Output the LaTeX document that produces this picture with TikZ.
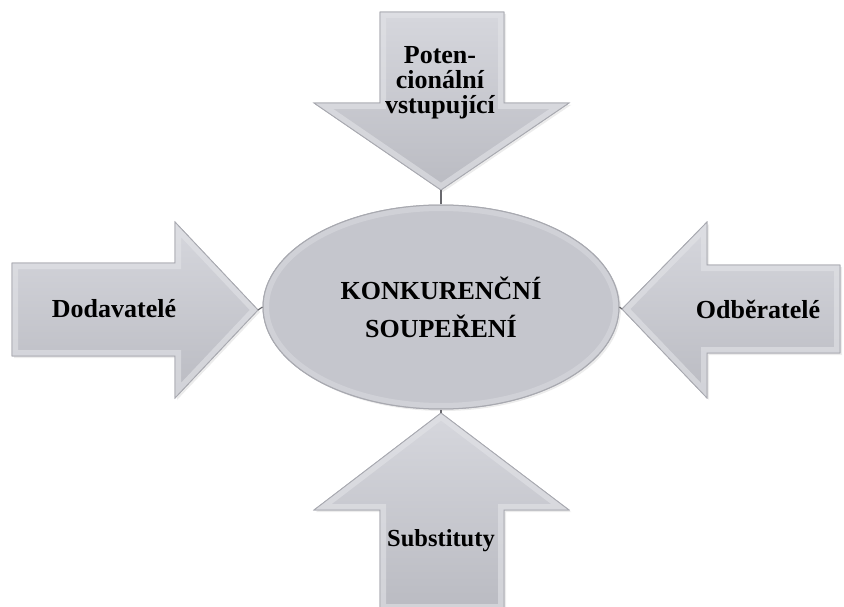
\documentclass[tikz,border=0pt]{standalone}
\usepackage{fontspec}
\setmainfont{Liberation Serif}
\usetikzlibrary{shapes.geometric,shadows}
\definecolor{facegray}{RGB}{197,198,205}
\definecolor{lightface}{RGB}{214,215,221}
\definecolor{darkface}{RGB}{186,187,194}
\definecolor{edgegray}{RGB}{168,169,176}
\definecolor{bevelgray}{RGB}{226,227,231}
\definecolor{linkgray}{RGB}{105,105,110}
\begin{document}
\begin{tikzpicture}[
        x=1pt,y=-1pt,
        arrowbody/.style={draw=edgegray,line width=.8pt,top color=lightface,bottom color=darkface,
          drop shadow={shadow xshift=2pt,shadow yshift=-2pt,opacity=.15}},
        bevel/.style={draw=bevelgray,line width=12pt,opacity=.6},
        core/.style={ellipse,draw=edgegray,line width=1pt,fill=facegray,
          minimum width=356pt,minimum height=204pt,inner sep=0pt,align=center,
          font=\bfseries\fontsize{26}{38}\selectfont,
          drop shadow={shadow xshift=2pt,shadow yshift=-2pt,opacity=.15}},
        caption/.style={font=\bfseries\fontsize{26}{38}\selectfont,align=center,inner sep=0pt},
        link/.style={draw=linkgray,line width=1.2pt},
        ]
        \useasboundingbox (0,0) rectangle (844,607);
        % arrows
        \def\entrantpath{(380,12) -- (504,12) -- (504,103) -- (569,103) -- (441,190) -- (314,103) -- (380,103) -- cycle}
        \def\supplierpath{(12,263) -- (175,263) -- (175,222) -- (258,310) -- (175,398) -- (175,356) -- (12,356) -- cycle}
        \def\buyerpath{(840,265) -- (707,265) -- (707,222) -- (622,309) -- (707,398) -- (707,353) -- (840,353) -- cycle}
        \def\substpath{(441,413) -- (569,510) -- (504,510) -- (504,610) -- (380,610) -- (380,510) -- (314,510) -- cycle}
        \foreach \arrowpath in {\entrantpath,\supplierpath,\buyerpath,\substpath}{
          \path[arrowbody] \arrowpath;
          \begin{scope}
            \clip \arrowpath;
            \draw[bevel] \arrowpath;
          \end{scope}
          \draw[edgegray,line width=.8pt] \arrowpath;
        }
        \coordinate (toptip) at (441,190);
        \coordinate (lefttip) at (258,310);
        \coordinate (righttip) at (622,309);
        \coordinate (bottomtip) at (441,413);
        % centre
        \node[core] (rivalry) at (441,307) {KONKURENČNÍ\\SOUPEŘENÍ};
        \begin{scope}
          \clip (rivalry.center) ellipse [x radius=178,y radius=102];
          \draw[bevel,opacity=.4] (rivalry.center) ellipse [x radius=178,y radius=102];
        \end{scope}
        \draw[edgegray,line width=1pt] (rivalry.center) ellipse [x radius=178,y radius=102];
        \draw[link] (toptip) -- (rivalry.north);
        \draw[link] (lefttip) -- (rivalry.west);
        \draw[link] (righttip) -- (rivalry.east);
        \draw[link] (bottomtip) -- (rivalry.south);
        % labels
        \node[caption,font=\bfseries\fontsize{26}{25}\selectfont] (entrants) at (440,83) {Poten-\\cionální\\vstupující};
        \node[caption] (suppliers) at (114,309) {Dodavatelé};
        \node[caption] (buyers) at (758,309) {Odběratelé};
        \node[caption,font=\bfseries\fontsize{24.5}{30}\selectfont] (substitutes) at (441,541) {Substituty};
\end{tikzpicture}
\end{document}
